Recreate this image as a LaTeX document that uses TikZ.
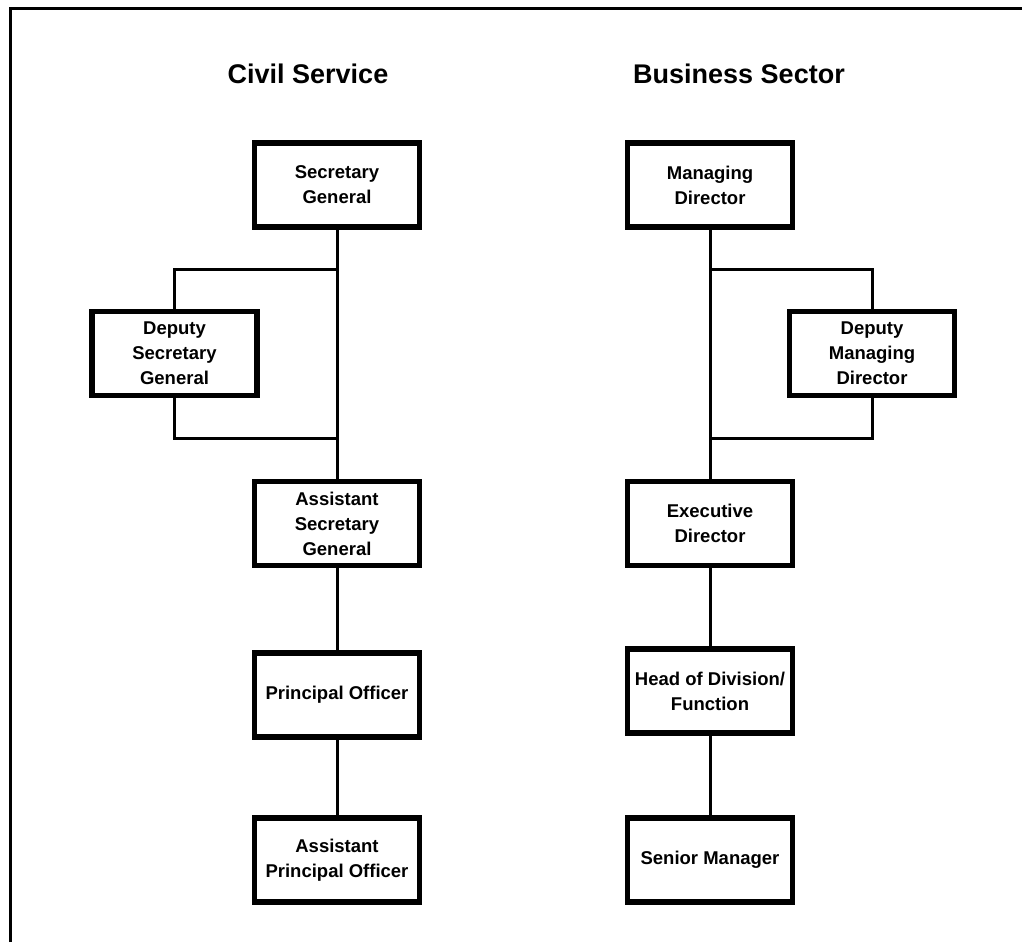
\documentclass[tikz,border=0pt]{standalone}
\usepackage{fontspec}
\setmainfont{Liberation Sans}
\usepackage{tikz}
\tikzset{
  post/.style={draw=black, line width=5.5pt, fill=white, align=center,
    minimum width=165pt, minimum height=84pt, inner sep=2pt,
    font=\bfseries\fontsize{18.5}{25}\selectfont},
  link/.style={draw=black, line width=3pt},
  frameline/.style={draw=black, line width=3pt},
  header/.style={font=\bfseries\fontsize{27}{32}\selectfont, anchor=base, inner sep=0pt}
}

\begin{document}
\begin{tikzpicture}[x=1pt,y=-1pt]
  \useasboundingbox (0,0) rectangle (1022,942);

  % Page frame (top and left edges only).
  \draw[frameline] (10.5,942) -- (10.5,8.5) -- (1022,8.5);

  % Column headings.
  \node[header] (civil) at (308,83) {Civil Service};
  \node[header] (business) at (739,83) {Business Sector};

  % Civil service ranks.
  \node[post] (sg)  at (337,185)   {Secretary\\General};
  \node[post] (dsg) at (174.5,353.5) {Deputy\\Secretary\\General};
  \node[post] (asg) at (337,523.5) {Assistant\\Secretary\\General};
  \node[post] (po)  at (337,695)   {Principal Officer};
  \node[post] (apo) at (337,860)   {Assistant\\Principal Officer};

  % Business sector ranks.
  \node[post] (md)  at (710,185)   {Managing\\Director};
  \node[post] (dmd) at (872,353.5) {Deputy\\Managing\\Director};
  \node[post] (ed)  at (710,523.5) {Executive\\Director};
  \node[post] (hod) at (710,691)   {Head of Division/\\Function};
  \node[post] (sm)  at (710,860)   {Senior Manager};

  % Branch points on the trunks.
  \coordinate (cstop) at (337,269);
  \coordinate (csbot) at (337,438);
  \coordinate (bstop) at (710,269);
  \coordinate (bsbot) at (710,438);

  % Civil service reporting lines.
  \draw[link] (sg.south) -- (asg.north);
  \draw[link] (cstop) -| (dsg.north);
  \draw[link] (dsg.south) |- (csbot);
  \draw[link] (asg.south) -- (po.north);
  \draw[link] (po.south) -- (apo.north);

  % Business sector reporting lines.
  \draw[link] (md.south) -- (ed.north);
  \draw[link] (bstop) -| (dmd.north);
  \draw[link] (dmd.south) |- (bsbot);
  \draw[link] (ed.south) -- (hod.north);
  \draw[link] (hod.south) -- (sm.north);
\end{tikzpicture}
\end{document}
